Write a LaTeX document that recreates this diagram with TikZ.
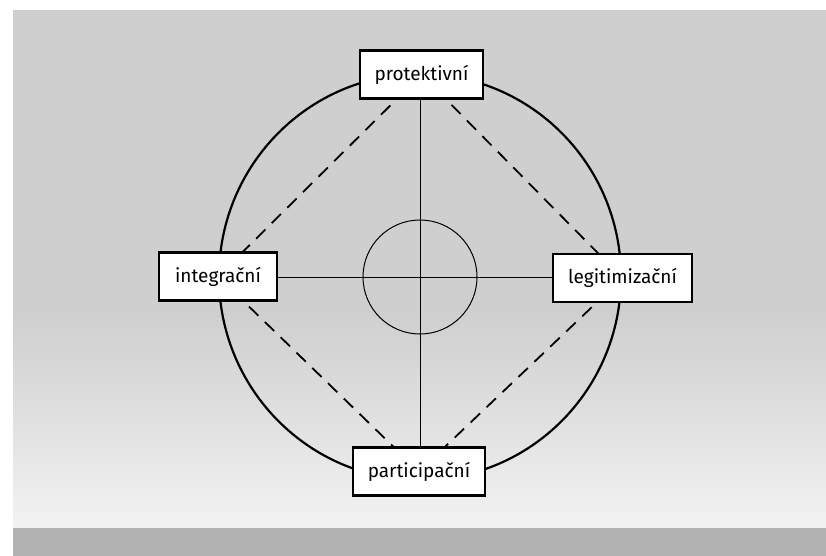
\documentclass[tikz,border=0pt]{standalone}
\usepackage{fontspec}
\setmainfont{Fira Sans}
\begin{document}
\begin{tikzpicture}[x=1pt,y=-1pt,
  lbl/.style={draw=black, line width=2.5pt, fill=white, minimum height=48pt,
    inner sep=0pt, font=\fontsize{19}{22}\selectfont},
  ring/.style={draw=black, line width=2.2pt},
  thinline/.style={draw=black, line width=1pt},
  dashline/.style={draw=black, line width=1.8pt, dash pattern=on 13pt off 9pt}]
% background
\fill[white] (0,0) rectangle (826,556);
\fill[black!19] (13,10) rectangle (826,310);
\shade[top color=black!19, bottom color=black!5] (13,310) rectangle (826,528);
\fill[black!30] (13,528) rectangle (826,556);
\useasboundingbox (0,0) rectangle (826,556);
% centre
\coordinate (c) at (420,277);
% node positions
\path (421.5,74.5) coordinate (pp) (218,276.5) coordinate (ip)
      (622.5,278) coordinate (lp) (419,471.5) coordinate (ap);
% big circle
\draw[ring] (c) ellipse[x radius=201, y radius=203];
% dashed diamond
\draw[dashline] (pp) -- (ip) -- (ap) -- (lp) -- cycle;
% small circle
\draw[thinline] (c) circle[radius=57];
% boxes
\node[lbl, minimum width=123pt] (p) at (pp) {protektivní};
\node[lbl, minimum width=118pt] (i) at (ip) {integrační};
\node[lbl, minimum width=139pt] (l) at (lp) {legitimizační};
\node[lbl, minimum width=132pt] (a) at (ap) {participační};
% cross
\draw[thinline] (p.south -| c) -- (a.north -| c);
\draw[thinline] (i.east |- c) -- (l.west |- c);
\end{tikzpicture}
\end{document}
